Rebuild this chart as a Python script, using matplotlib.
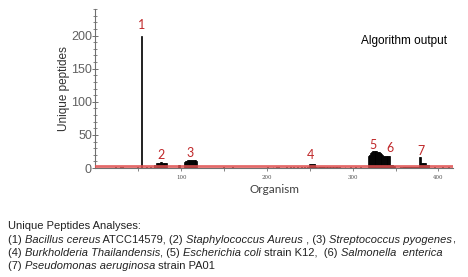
import matplotlib
matplotlib.use("Agg")
import matplotlib.pyplot as plt
from matplotlib.transforms import IdentityTransform
from matplotlib.ticker import MultipleLocator

# single organisms with a few peptides (organism index, count)
single_ids = [23, 29, 32, 49, 54, 60, 64, 69, 97, 98, 149, 160, 201, 207, 211,
              213, 223, 227, 231, 236, 240, 244, 247, 291, 297, 303, 309,
              395, 405, 412]
single_counts = [2, 1, 1, 1, 200, 2, 2, 4, 5, 4, 1, 1, 1, 1, 1,
                 1, 1, 1, 2, 2, 1, 2, 1, 1, 1, 1, 2,
                 1, 1, 1]

# runs of neighbouring organisms: start index, counts
run2_start = 71
run2 = [7, 8, 8, 8, 8, 9, 9, 8, 8, 8, 8, 8, 7]
run3_start = 104
run3 = [9, 10, 11, 12, 12, 12, 12, 12, 12, 12, 12, 12, 12, 12, 11]
run4_start = 250
run4 = [6, 6, 6, 6, 6, 6, 6]
low1_start = 257
low1 = [1, 1, 0, 1, 1, 1, 0, 1, 1, 1, 1, 0, 1, 1, 1, 0, 1, 1, 0, 1, 1, 1, 0, 1, 1, 1, 0, 1, 1]
run56_start = 318
run56 = [18, 19, 20, 22, 24, 25, 26, 26, 25, 25, 25, 24, 24, 24, 23, 22, 21, 20,
         18, 18, 18, 18, 18, 18, 18, 18, 4, 4, 4, 4, 3, 3]
low2_start = 356
low2 = [1, 0, 1, 1, 1, 2, 2, 2, 2, 2, 2, 2, 2, 2, 2, 2, 2, 1, 1, 0, 1, 1]
run7_start = 378
run7 = [16, 16, 8, 8, 8, 8, 8, 8, 5, 5, 5, 5]

labels = ["1", "2", "3", "4", "5", "6", "7"]
label_x = [54, 77, 110, 251, 323.5, 343, 379.5]
label_y = [216, 19, 22, 19, 35, 30, 25]

organism = list(single_ids)
peptides = list(single_counts)
for start, vals in [(run2_start, run2), (run3_start, run3), (run4_start, run4),
                    (low1_start, low1), (run56_start, run56),
                    (low2_start, low2), (run7_start, run7)]:
    for i, v in enumerate(vals):
        organism.append(start + i)
        peptides.append(v)

fig = plt.figure(figsize=(4.68, 2.77), dpi=100)
ax = fig.add_axes([0.204, 0.3935, 0.764, 0.574])

ax.bar(organism, peptides, width=1.0, color="black", edgecolor="black", linewidth=0.5)
ax.axhline(2.5, color="#e05050", lw=2, alpha=0.85, zorder=3)

ax.set_xlim(0, 417)
ax.set_ylim(0, 240)
for s in ["top", "right"]:
    ax.spines[s].set_visible(False)
ax.spines["left"].set_color("#707070")
ax.spines["bottom"].set_color("#707070")

ax.yaxis.set_major_locator(MultipleLocator(50))
ax.yaxis.set_minor_locator(MultipleLocator(10))
ax.tick_params(axis="y", which="major", direction="inout", length=5, width=0.7,
               colors="#707070", labelcolor="#606060", labelsize=9, pad=0)
ax.tick_params(axis="y", which="minor", direction="inout", length=3, width=0.6,
               colors="#707070")
ax.set_xticks([100, 200, 300, 400])
ax.set_xticks([50, 150, 250, 350], minor=True)
ax.tick_params(axis="x", which="both", direction="out", length=2, width=0.6,
               colors="#707070", labelcolor="#505050", labelsize=4, pad=3)
for t in ax.get_xticklabels():
    t.set_family("DejaVu Serif")
for t in ax.get_yticklabels():
    t.set_family("Liberation Sans")

ax.set_ylabel("Unique peptides", family="Liberation Sans", fontsize=8.5,
              color="#303030", labelpad=1)
ax.set_xlabel("Organism", family="Lato", fontsize=8.5, color="#404040", labelpad=3)

ax.text(359.5, 191, "Algorithm output", family="Liberation Sans", fontsize=8.5,
        ha="center", va="center", color="black")

for lab, x, y in zip(labels, label_x, label_y):
    ax.text(x, y, lab, family="Lato", fontsize=9, color="#c0282a",
            ha="center", va="center")

# caption below the chart, mixed upright and italic
caption = [
    [("Unique Peptides Analyses:", "normal")],
    [("(1) ", "normal"), ("Bacillus cereus", "italic"), (" ATCC14579, (2) ", "normal"),
     ("Staphylococcus Aureus", "italic"), (" , (3) ", "normal"),
     ("Streptococcus pyogenes", "italic"), (",", "normal")],
    [("(4) ", "normal"), ("Burkholderia Thailandensis", "italic"), (", (5) ", "normal"),
     ("Escherichia coli", "italic"), (" strain K12,  (6) ", "normal"),
     ("Salmonella  enterica", "italic")],
    [("(7) ", "normal"), ("Pseudomonas aeruginosa", "italic"), (" strain PA01", "normal")],
]
baselines = [47.7, 34.3, 21.3, 8.0]
cap_size = 8.0

renderer = fig.canvas.get_renderer()
for parts, yb in zip(caption, baselines):
    x = 8.0
    for txt, st in parts:
        # measure with guard chars so spaces count
        probe = fig.text(0, 0, "|" + txt + "|", style=st, family="Liberation Sans",
                         fontsize=cap_size, transform=IdentityTransform())
        guard = fig.text(0, 0, "||", style=st, family="Liberation Sans",
                         fontsize=cap_size, transform=IdentityTransform())
        w = probe.get_window_extent(renderer).width - guard.get_window_extent(renderer).width
        probe.remove()
        guard.remove()
        fig.text(x, yb, txt, style=st, family="Liberation Sans", fontsize=cap_size,
                 color="#222222", va="baseline", transform=IdentityTransform())
        x += w

fig.savefig("out.png", dpi=100)
